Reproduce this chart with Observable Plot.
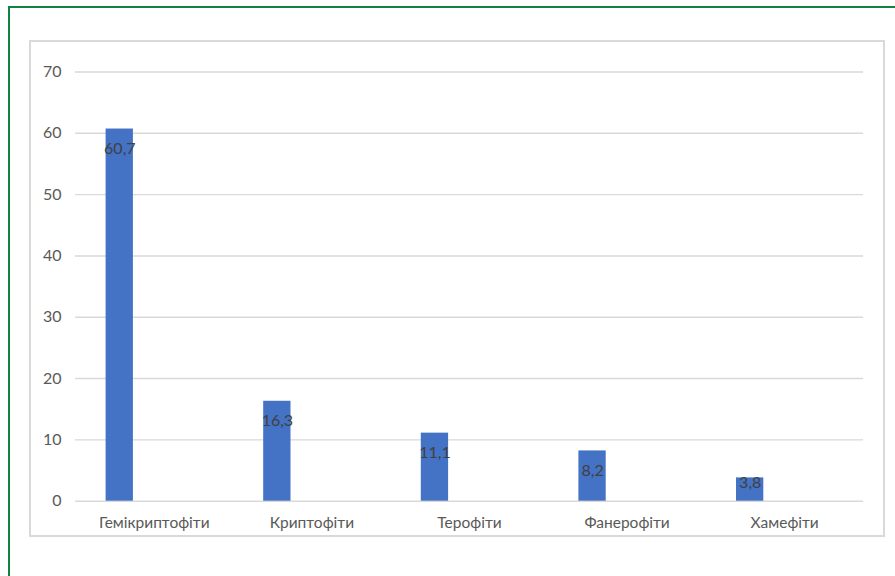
<!DOCTYPE html>
<html>
<head>
<meta charset="utf-8">
<script src="https://cdn.jsdelivr.net/npm/d3@7"></script>
<script src="https://cdn.jsdelivr.net/npm/@observablehq/plot@0.6"></script>
<style>
  html, body { margin: 0; padding: 0; background: #fff; }
  #wrap { position: relative; width: 895px; height: 576px; overflow: hidden; }
  #wrap svg { position: absolute; left: 0; top: 0; }
  .outer { position: absolute; left: 8px; top: 6px; width: 1000px; height: 700px; border: 2.5px solid #11823f; box-sizing: border-box; pointer-events: none; }
  .inner { position: absolute; left: 29px; top: 40px; width: 856px; height: 497px; border: 2px solid #d9d9d9; box-sizing: border-box; pointer-events: none; }
</style>
</head>
<body>
<div id="wrap"></div>
<script>
const categories = ["Гемікриптофіти", "Криптофіти", "Терофіти", "Фанерофіти", "Хамефіти"];
const values = [60.7, 16.3, 11.1, 8.2, 3.8];
const valueLabels = ["60,7", "16,3", "11,1", "8,2", "3,8"];
const yTicks = [0, 10, 20, 30, 40, 50, 60, 70];

const data = categories.map((c, i) => ({category: c, value: values[i], label: valueLabels[i]}));

const chart = Plot.plot({
  width: 895,
  height: 576,
  marginLeft: 75,
  marginRight: 32,
  marginTop: 71.5,
  marginBottom: 75.3,
  style: {fontFamily: "Lato, 'Open Sans', sans-serif", fontSize: "16px", color: "#595959", background: "transparent"},
  x: {domain: categories, padding: 0, round: false, label: null},
  y: {domain: [0, 70], label: null},
  marks: [
    Plot.ruleY(yTicks, {stroke: "#d9d9d9", strokeWidth: 1.4}),
    Plot.barY(data, {x: "category", y: "value", fill: "#4472c4", insetLeft: 30.6, insetRight: 99.7}),
    Plot.text(data, {
      x: "category",
      y: d => Math.max(d.value - 3.26, 3.0),
      text: "label",
      dx: -34.5,
      fill: "#404040",
      fontSize: 16
    }),
    Plot.axisY({ticks: yTicks, tickSize: 0, tickPadding: 14, tickFormat: d => String(d), label: null, fontSize: 16, fill: "#595959"}),
    Plot.axisX({tickSize: 0, tickPadding: 16, label: null, fontSize: 15.5, fill: "#595959"})
  ]
});
const wrap = document.getElementById("wrap");
wrap.appendChild(chart);
const inner = document.createElement("div"); inner.className = "inner"; wrap.appendChild(inner);
const outer = document.createElement("div"); outer.className = "outer"; wrap.appendChild(outer);
</script>
</body>
</html>
